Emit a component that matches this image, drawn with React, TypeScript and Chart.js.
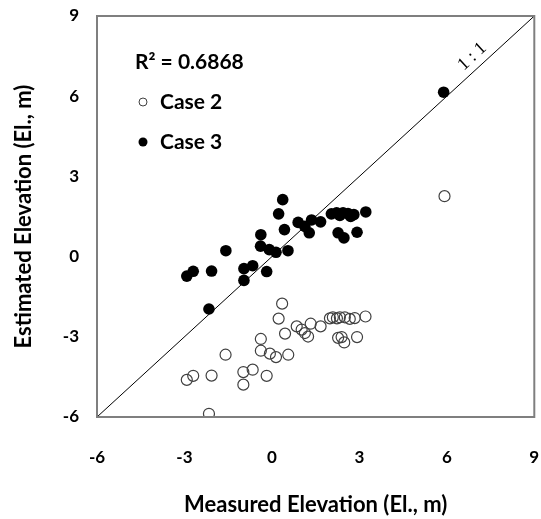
import React, { useEffect, useRef } from "react";
import { Chart, registerables } from "chart.js";

Chart.register(...registerables);

// Case 2 (open circles)
const measuredCase2 = [0.35, 0.23, 0.45, -0.38, -0.38, -0.07, 0.14, 0.56, -1.59, -0.98, -0.66, -0.18, -2.07, -2.7, -2.92, -0.98, -2.16, 0.85, 1.02, 1.13, 1.24, 1.33, 1.67, 1.99, 2.09, 2.23, 2.33, 2.5, 2.67, 2.84, 3.21, 2.27, 2.39, 2.48, 2.92, 5.92];
const estimatedCase2 = [-1.76, -2.32, -2.88, -3.08, -3.52, -3.63, -3.76, -3.67, -3.67, -4.32, -4.23, -4.46, -4.45, -4.46, -4.61, -4.79, -5.88, -2.61, -2.73, -2.86, -2.99, -2.51, -2.61, -2.31, -2.27, -2.31, -2.27, -2.27, -2.33, -2.3, -2.24, -3.04, -3.01, -3.21, -3.01, 2.26];

// Case 3 (filled circles)
const measuredCase3 = [0.37, 0.23, 0.43, -0.38, -1.58, -0.39, -0.09, 0.14, 0.55, 0.9, 1.13, 1.28, 1.36, 1.67, 2.04, 2.22, 2.44, 2.61, 2.81, 3.22, 2.27, 2.47, 2.92, -0.96, -0.66, -0.18, -2.07, -2.7, -2.92, -0.96, -2.16, 5.89, 2.33, 2.7];
const estimatedCase3 = [2.13, 1.6, 1.01, 0.82, 0.22, 0.39, 0.26, 0.16, 0.22, 1.28, 1.13, 0.89, 1.37, 1.3, 1.6, 1.64, 1.64, 1.61, 1.57, 1.67, 0.89, 0.7, 0.91, -0.45, -0.34, -0.56, -0.54, -0.55, -0.73, -0.89, -1.96, 6.15, 1.54, 1.5];

const oneToOneLine = [-6, 9];
const axisMin = -6;
const axisMax = 9;
const tickStep = 3;

const rSquaredText = "R\u00B2 = 0.6868";
const case2Label = "Case 2";
const case3Label = "Case 3";
const xTitle = "Measured Elevation (El., m)";
const yTitle = "Estimated Elevation (El., m)";
const lineLabel = "1 : 1";

const FONT = "Lato, 'Open Sans', sans-serif";

const overlayPlugin = {
  id: "overlay",
  afterDraw(chart: any) {
    const { ctx, chartArea } = chart;
    const { left, right, top, bottom } = chartArea;
    const xs = chart.scales.x;
    const ys = chart.scales.y;
    ctx.save();
    // frame
    ctx.strokeStyle = "#7f7f7f";
    ctx.lineWidth = 2;
    ctx.strokeRect(left, top, right - left, bottom - top);

    // 1:1 label
    const ang = Math.atan2(
      ys.getPixelForValue(9) - ys.getPixelForValue(-6),
      xs.getPixelForValue(9) - xs.getPixelForValue(-6)
    );
    const lx = xs.getPixelForValue(7.15);
    const ly = ys.getPixelForValue(7.15);
    ctx.translate(lx, ly);
    ctx.rotate(ang);
    ctx.fillStyle = "#000";
    ctx.font = "18px 'Liberation Serif', serif";
    ctx.textAlign = "center";
    ctx.textBaseline = "bottom";
    ctx.fillText(lineLabel, 0, -3);
    ctx.restore();

    ctx.save();
    ctx.fillStyle = "#000";
    // legend
    ctx.font = `bold 21px ${FONT}`;
    ctx.textAlign = "left";
    ctx.textBaseline = "middle";
    ctx.fillText(rSquaredText, 135, 62);
    ctx.fillText(case2Label, 160, 102);
    ctx.fillText(case3Label, 160, 142);
    ctx.beginPath();
    ctx.arc(143, 102, 4, 0, Math.PI * 2);
    ctx.strokeStyle = "#404040";
    ctx.lineWidth = 1;
    ctx.stroke();
    ctx.beginPath();
    ctx.arc(143, 142, 4.5, 0, Math.PI * 2);
    ctx.fill();

    // axis titles
    ctx.font = `bold 22px ${FONT}`;
    ctx.textAlign = "center";
    ctx.textBaseline = "middle";
    ctx.fillText(xTitle, (left + right) / 2, 505);
    ctx.translate(24, (top + bottom) / 2);
    ctx.rotate(-Math.PI / 2);
    ctx.fillText(yTitle, 0, 0);
    ctx.restore();
  },
};

export default function App() {
  const ref = useRef<HTMLCanvasElement | null>(null);
  useEffect(() => {
    if (!ref.current) return;
    const chart = new Chart(ref.current, {
      type: "scatter",
      data: {
        datasets: [
          {
            label: "1:1",
            data: oneToOneLine.map((v) => ({ x: v, y: v })),
            showLine: true,
            borderColor: "#000",
            borderWidth: 1,
            pointRadius: 0,
          },
          {
            label: case2Label,
            data: measuredCase2.map((x, i) => ({ x, y: estimatedCase2[i] })),
            pointRadius: 5.5,
            pointBackgroundColor: "rgba(255,255,255,0)",
            pointBorderColor: "#404040",
            pointBorderWidth: 1.2,
          },
          {
            label: case3Label,
            data: measuredCase3.map((x, i) => ({ x, y: estimatedCase3[i] })),
            pointRadius: 5.8,
            pointBackgroundColor: "#000",
            pointBorderColor: "#000",
            pointBorderWidth: 0,
          },
        ],
      },
      options: {
        responsive: false,
        animation: false,
        layout: { padding: { top: 16, right: 5, left: 0, bottom: 0 } },
        plugins: { legend: { display: false }, tooltip: { enabled: false } },
        scales: {
          x: {
            type: "linear",
            min: axisMin,
            max: axisMax,
            ticks: { stepSize: tickStep, color: "#000", font: { family: FONT, size: 17, weight: "bold" }, padding: 22 },
            grid: { display: false },
            border: { display: false },
            afterFit: (s: any) => { s.height = 102; s.paddingRight = 0; s.paddingLeft = 0; },
          },
          y: {
            type: "linear",
            min: axisMin,
            max: axisMax,
            ticks: { stepSize: tickStep, color: "#000", font: { family: FONT, size: 17, weight: "bold" }, padding: 10 },
            grid: { display: false },
            border: { display: false },
            afterFit: (s: any) => { s.width = 97; s.paddingTop = 0; s.paddingBottom = 0; },
          },
        },
      } as any,
      plugins: [overlayPlugin],
    });
    return () => chart.destroy();
  }, []);
  return (
    <div style={{ position: "fixed", left: 0, top: 0, width: 541, height: 519, background: "#fff" }}>
      <canvas ref={ref} width={541} height={519} />
    </div>
  );
}
